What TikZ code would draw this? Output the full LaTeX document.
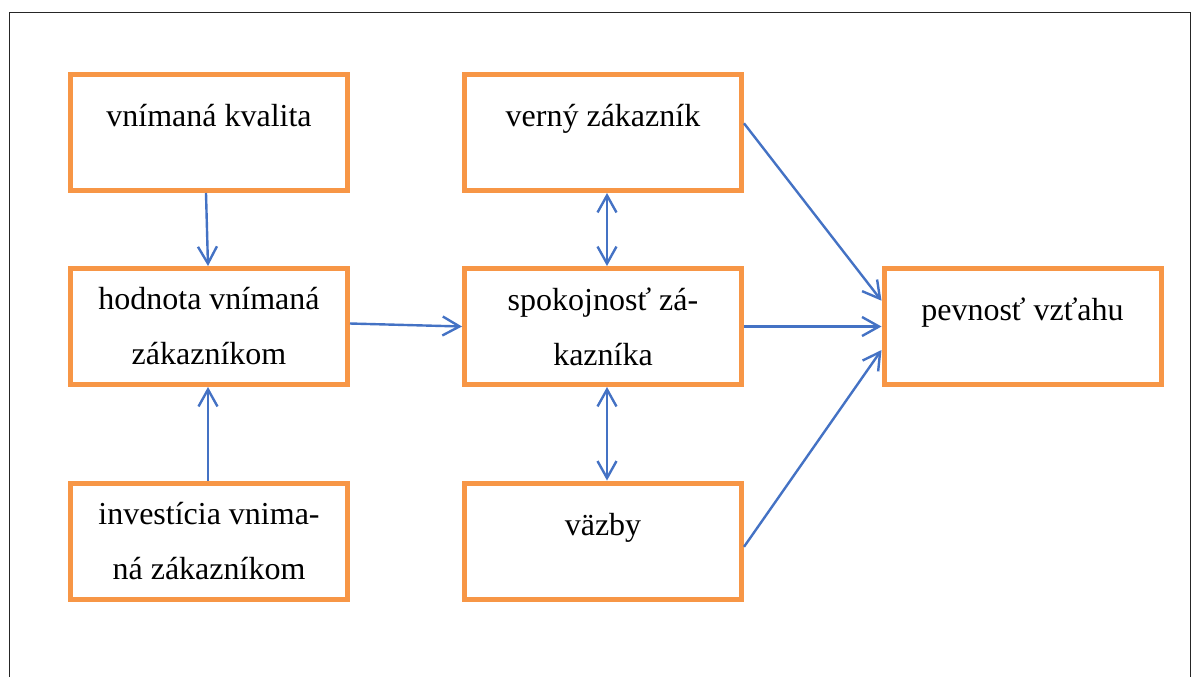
\documentclass[tikz,border=0pt]{standalone}
\usepackage{fontspec}
\setmainfont{Liberation Serif}
\usetikzlibrary{positioning,arrows.meta}
\definecolor{boxorange}{RGB}{247,150,70}
\definecolor{linkblue}{RGB}{68,114,196}

\begin{document}
\begin{tikzpicture}[node distance={36.5pt and 56pt},
    box/.style={draw=boxorange, line width=2.5pt, minimum width=138.5pt, minimum height=58pt,
      inner sep=0pt, align=center, font=\fontsize{16pt}{27.5pt}\selectfont},
    oneline/.style={text height=10pt, text depth=16pt}]
    \useasboundingbox (-104.5pt,66.25pt) rectangle (492pt,-272.25pt);
    \draw[black!85, line width=0.9pt] (-99.75pt,-272.25pt) -- (-99.75pt,60pt) -- (490.75pt,60pt) -- (490.75pt,-272.25pt);
    \node[box, oneline] (1) at (0,0) {vnímaná kvalita};
    \node[box] (2) [below=of 1] {hodnota vnímaná\\zákazníkom};
    \node[box] (3) [below=46.75pt of 2] {investícia vnima-\\ná zákazníkom};
    \node[box, oneline] (4) [right=of 1] {verný zákazník};
    \node[box] (5) [below=of 4] {spokojnosť zá-\\kazníka};
    \node[box, oneline] (6) [below=46.75pt of 5] {väzby};
    \node[box, oneline] (7) [right=68.75pt of 5] {pevnosť vzťahu};
\begin{scope}[line width=1.2pt, draw=linkblue, >={Straight Barb[length=8.5pt, width=9.5pt]}, ->]
    \draw ([xshift=-1.5pt]1.south) -- ([xshift=-0.5pt]2.north);
    \draw ([xshift=-0.5pt]3.north) -- ([xshift=-0.5pt]2.south);
    \draw ([yshift=1.5pt]2.east) -- (5.west);
    \draw[<->] ([xshift=2pt]4.south) -- ([xshift=2pt]5.north);
    \draw[<->] ([xshift=2pt]5.south) -- ([xshift=2pt]6.north);
    \draw ([yshift=4.6pt]4.east) -- ([yshift=12.9pt]7.west);
    \draw (5.east) -- (7.west);
    \draw ([yshift=-2.9pt]6.east) -- ([yshift=-11.75pt]7.west);
\end{scope}
\end{tikzpicture}
\end{document}
